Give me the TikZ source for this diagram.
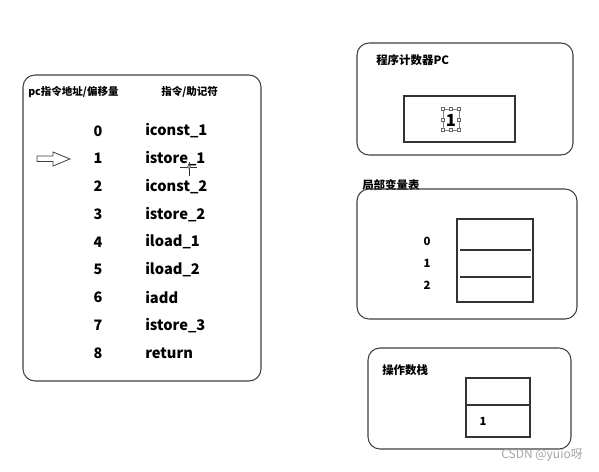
\documentclass[tikz,border=0pt]{standalone}
\usepackage{fontspec}
\setmainfont{Noto Sans CJK SC}
\begin{document}
\begin{tikzpicture}[x=0.75pt,y=-0.75pt,
  panel/.style={draw=black!75,line width=0.8pt,rounded corners=9pt},
  cell/.style={draw=black!80,line width=0.8pt},
  hdr/.style={font=\fontsize{8.6}{10}\selectfont\bfseries,inner sep=0pt,anchor=west},
  lhdr/.style={font=\fontsize{7.9}{9}\selectfont\bfseries,inner sep=0pt,anchor=west},
  num/.style={font=\fontsize{10.8}{12}\selectfont\bfseries,inner sep=0pt},
  ins/.style={font=\fontsize{11}{12}\selectfont\bfseries,inner sep=0pt,anchor=west},
  handle/.style={draw=black!60,line width=0.3pt,minimum size=2.2pt,inner sep=0pt,fill=white}]
\useasboundingbox[fill=white] (0,0) rectangle (599,471);
% left panel
\draw[panel] (23,75) rectangle (261,381);
\node[lhdr] (h1) at (28,92) {pc指令地址/偏移量};
\node[lhdr] (h2) at (161,92) {指令/助记符};
\foreach \i/\t [count=\k from 0] in {0/iconst\_1,1/istore\_1,2/iconst\_2,3/istore\_2,4/iload\_1,5/iload\_2,6/iadd,7/istore\_3,8/return}{
  \node[num] (n\i) at (98,131+27.75*\k) {\i};
  \node[ins] (i\i) at (145,131+27.75*\k) {\t};
}
% hollow arrow
\draw[black!75,line width=0.6pt] (37,156)--(53,156)--(53,152)--(70,159)--(53,166)--(53,161.5)--(37,161.5)--cycle;
% cursor cross
\draw[black!80,line width=0.5pt] (180,167)--(197,167) (189,162)--(189,176);
\draw[black!80,line width=0.4pt,fill=white] (189,167) circle (1.6);
% PC panel
\draw[panel] (357,43) rectangle (573,155);
\node[hdr] (pct) at (376,60) {程序计数器PC};
\node[cell,minimum width=83.25pt,minimum height=34.5pt,inner sep=0pt] (pcbox) at (459.5,119) {};
\foreach \px/\py in {443/109,451/109,459/109,443/120,459/120,443/130,451/130,459/130}{
  \node[handle] at (\px,\py) {};
}
\draw[black!50,line width=0.3pt] (444.5,109)--(449.5,109) (452.5,109)--(457.5,109) (444.5,130)--(449.5,130) (452.5,130)--(457.5,130) (443,110.5)--(443,118.5) (443,121.5)--(443,128.5) (459,110.5)--(459,118.5) (459,121.5)--(459,128.5);
\node[font=\fontsize{12.5}{14}\selectfont\bfseries,inner sep=0pt] (pcv) at (451,120) {1};
% local variable table
\node[hdr] (lvt) at (362,185) {局部变量表};
\draw[panel] (357,189) rectangle (577,319);
\draw[cell] (457,219) rectangle (533,302);
\draw[cell] (460,250) -- (531,250) (460,277) -- (531,277);
\node[num,font=\fontsize{8.5}{10}\selectfont\bfseries] (l0) at (427,241) {0};
\node[num,font=\fontsize{8.5}{10}\selectfont\bfseries] (l1) at (427,263) {1};
\node[num,font=\fontsize{8.5}{10}\selectfont\bfseries] (l2) at (427,285) {2};
% operand stack
\draw[panel] (368,348) rectangle (571,449);
\node[hdr] (ost) at (382,370) {操作数栈};
\draw[cell] (466,378) rectangle (530,437);
\draw[cell] (466,405) -- (530,405);
\node[num,font=\fontsize{8.5}{10}\selectfont\bfseries] (sv) at (483,421) {1};
% watermark
\node[font=\fontsize{9}{10}\selectfont,text=black!35,inner sep=0pt,anchor=west] (wm) at (501,455) {CSDN @yuio呀};
\end{tikzpicture}
\end{document}
